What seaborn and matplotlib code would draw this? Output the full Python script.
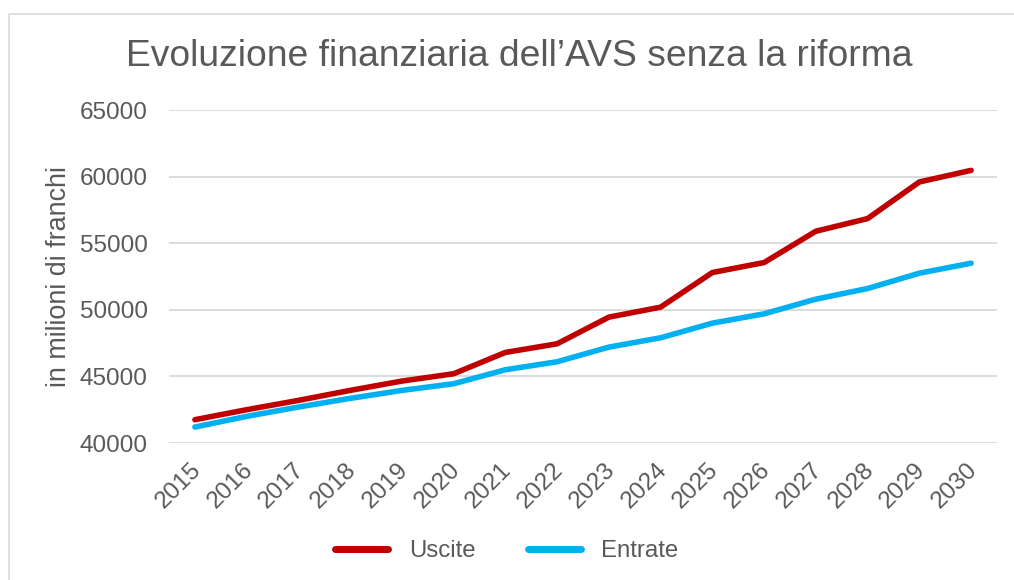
import matplotlib
matplotlib.use("Agg")
import matplotlib.pyplot as plt
import matplotlib.transforms as mtransforms
import pandas as pd
import seaborn as sns
from matplotlib.patches import Rectangle
from matplotlib.lines import Line2D

# dati (milioni di franchi)
anni = list(range(2015, 2031))
uscite = [41750, 42500, 43200, 43950, 44650, 45200, 46800, 47450,
          49450, 50200, 52800, 53550, 55900, 56850, 59600, 60470]
entrate = [41200, 42000, 42700, 43350, 43950, 44450, 45500, 46100,
           47200, 47900, 49000, 49700, 50800, 51600, 52750, 53500]

df = pd.DataFrame({
    "anno": anni * 2,
    "valore": uscite + entrate,
    "serie": ["Uscite"] * len(anni) + ["Entrate"] * len(anni),
})

sns.set_theme(style="whitegrid")
plt.rcParams["font.family"] = ["Liberation Sans", "DejaVu Sans"]
grigio = "#595959"
colori = {"Uscite": "#C00000", "Entrate": "#00B0F0"}

fig = plt.figure(figsize=(10.14, 5.8), dpi=100)
ax = fig.add_axes([0.1667, 0.2362, 0.8165, 0.5741])

# cornice chiara attorno al grafico
fig.patches.append(Rectangle((9 / 1014, -0.05), 1.05, 1 - 14 / 580 + 0.05,
                             transform=fig.transFigure, fill=False,
                             edgecolor="#d9d9d9", linewidth=1.2))

sns.lineplot(data=df, x="anno", y="valore", hue="serie", palette=colori,
             linewidth=4, ax=ax, legend=False, solid_capstyle="round")

ax.set_xlim(2014.5, 2030.5)
ax.set_ylim(40000, 65000)
ax.set_yticks(range(40000, 65001, 5000))
ax.set_xticks(anni)
ax.grid(axis="x", visible=False)
ax.grid(axis="y", color="#d9d9d9", linewidth=1.3)
for s in ax.spines.values():
    s.set_visible(False)

ax.tick_params(axis="y", length=0, pad=15.5, labelsize=17.5, labelcolor=grigio)
ax.tick_params(axis="x", length=0, pad=10, labelsize=17.5, labelcolor=grigio)
sposta = mtransforms.ScaledTranslation(-5 / 100, -2 / 100, fig.dpi_scale_trans)
for lab in ax.get_xticklabels():
    lab.set_rotation(45)
    lab.set_ha("right")
    lab.set_va("top")
    lab.set_rotation_mode("anchor")
    lab.set_transform(lab.get_transform() + sposta)

ax.set_xlabel("")
ax.set_ylabel("in milioni di franchi", fontsize=19.4, color=grigio, va="center")
ax.yaxis.set_label_coords(-0.133, 0.5)

fig.text(0.512, 1 - 56 / 580, "Evoluzione finanziaria dell\u2019AVS senza la riforma",
         ha="center", va="center", fontsize=26.8, color=grigio)

handles = [Line2D([], [], color=colori["Uscite"], linewidth=5, solid_capstyle="round"),
           Line2D([], [], color=colori["Entrate"], linewidth=5, solid_capstyle="round")]
fig.legend(handles, ["Uscite", "Entrate"], loc="center", ncol=2,
           bbox_to_anchor=(0.5, 1 - 551 / 580), frameon=False,
           fontsize=17.3, labelcolor=grigio, handlelength=2.2,
           handletextpad=0.85, columnspacing=2.2)

fig.savefig("out.png", dpi=100)
